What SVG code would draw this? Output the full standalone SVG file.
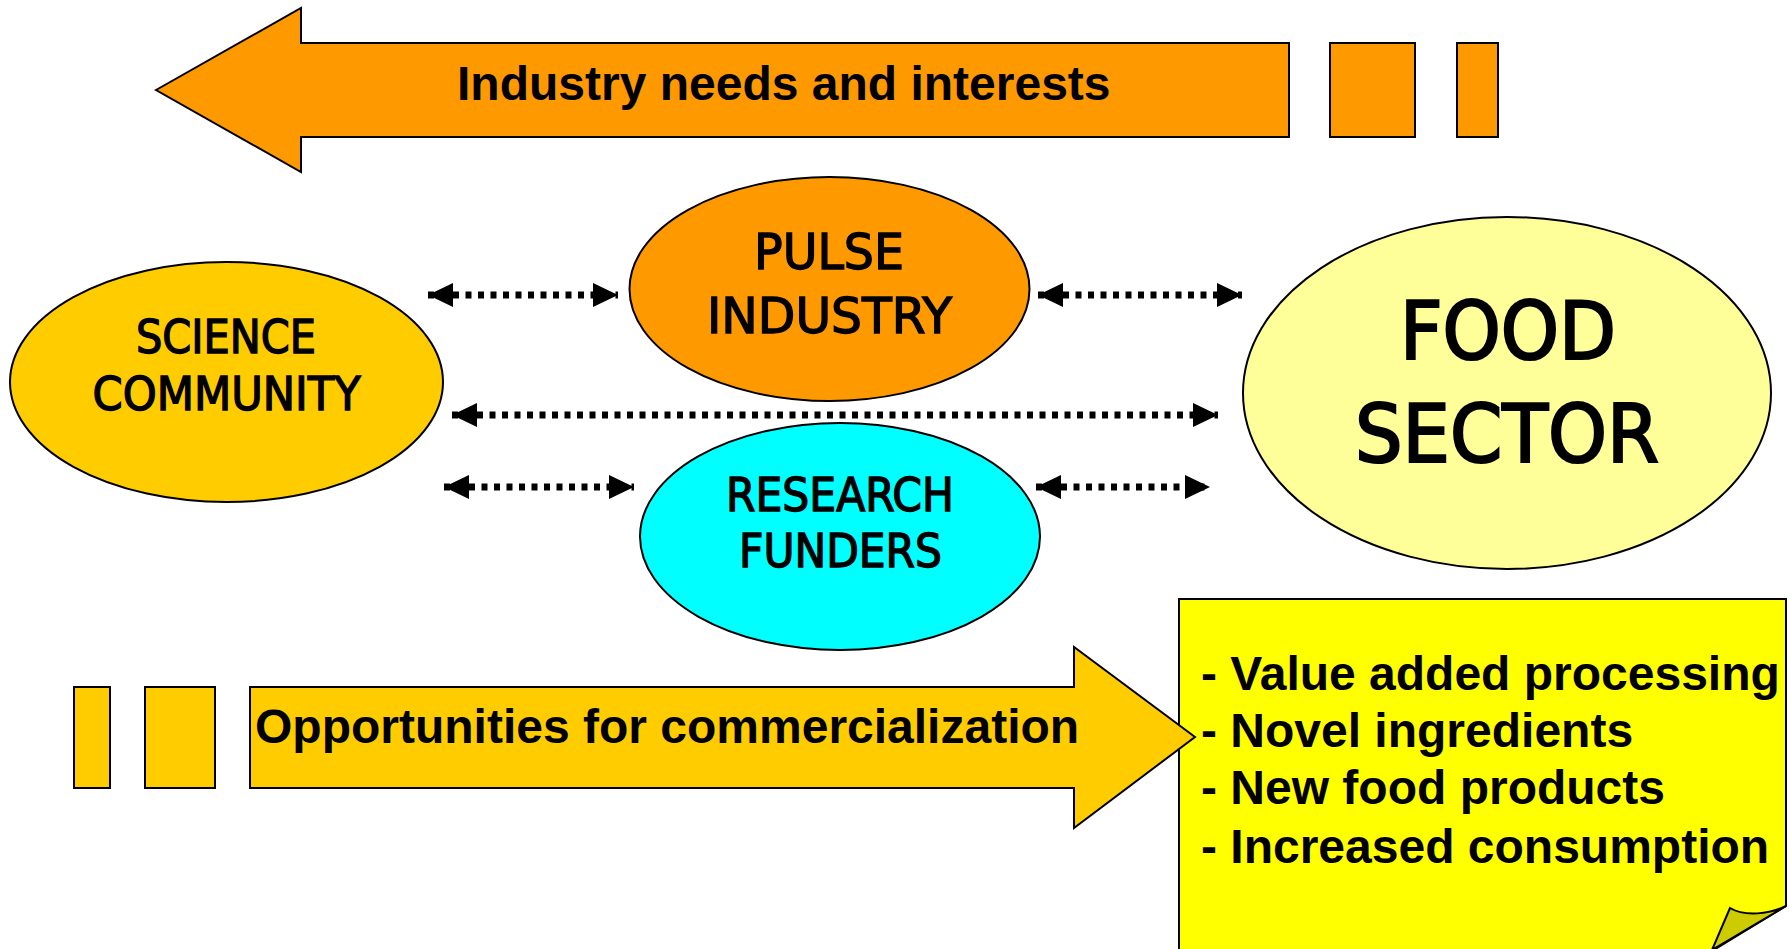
<svg xmlns="http://www.w3.org/2000/svg" width="1789" height="949" viewBox="0 0 1789 949">
<style>
.shape{stroke:#000;stroke-width:2;stroke-linejoin:miter}
.lbl{font-family:"Liberation Sans",Arial,sans-serif;font-weight:bold;font-size:48px;fill:#000}
.cond{font-family:"DejaVu Sans Condensed","DejaVu Sans",sans-serif;font-stretch:condensed;fill:#000;stroke:#000;stroke-width:1.3;text-anchor:middle}
.big{stroke-width:2.2}
.dot{stroke:#000;stroke-width:7;stroke-dasharray:6 6.5;fill:none;marker-start:url(#head);marker-end:url(#head)}
</style>
<defs>
<marker id="head" viewBox="0 0 25 24" refX="25" refY="12" markerWidth="25" markerHeight="24" markerUnits="userSpaceOnUse" orient="auto-start-reverse">
<path d="M0,0 L25,12 L0,24 Z" fill="#000"/>
</marker>
</defs>
<rect width="1789" height="949" fill="#fff"/>

<g id="industry-needs">
<path class="shape" fill="#FF9900" d="M156,90 L301,8 L301,43 L1289,43 L1289,137 L301,137 L301,172 Z"/>
<rect class="shape" fill="#FF9900" x="1330" y="43" width="85" height="94"/>
<rect class="shape" fill="#FF9900" x="1457" y="43" width="41" height="94"/>
<text class="lbl" x="457" y="100">Industry needs and interests</text>
</g>

<g id="science-community">
<ellipse class="shape" fill="#FFCC00" cx="226.5" cy="382" rx="216.5" ry="120"/>
<text class="cond" font-size="46" x="226" y="353" textLength="180" lengthAdjust="spacingAndGlyphs">SCIENCE</text>
<text class="cond" font-size="46" x="226.5" y="410" textLength="268" lengthAdjust="spacingAndGlyphs">COMMUNITY</text>
</g>

<g id="pulse-industry">
<ellipse class="shape" fill="#FF9900" cx="829.5" cy="289" rx="200" ry="112"/>
<text class="cond" font-size="50" x="829" y="269" textLength="150" lengthAdjust="spacingAndGlyphs">PULSE</text>
<text class="cond" font-size="50" x="829.5" y="333" textLength="245" lengthAdjust="spacingAndGlyphs">INDUSTRY</text>
</g>

<g id="research-funders">
<ellipse class="shape" fill="#00FFFF" cx="840" cy="536.5" rx="200" ry="113.5"/>
<text class="cond" font-size="46" x="840" y="511" textLength="228" lengthAdjust="spacingAndGlyphs">RESEARCH</text>
<text class="cond" font-size="46" x="840.5" y="567" textLength="203" lengthAdjust="spacingAndGlyphs">FUNDERS</text>
</g>

<g id="food-sector">
<ellipse class="shape" fill="#FFFF99" cx="1507" cy="393" rx="264" ry="176"/>
<text class="cond big" font-size="81" x="1508" y="359" textLength="216" lengthAdjust="spacingAndGlyphs">FOOD</text>
<text class="cond big" font-size="81" x="1507" y="462" textLength="304" lengthAdjust="spacingAndGlyphs">SECTOR</text>
</g>

<g id="outcomes-note">
<path class="shape" fill="#FFFF00" d="M1179,599 H1786 V906 L1712,951 H1179 Z"/>
<path class="shape" fill="#CCCC00" d="M1786,906 C1770,914 1745,917 1730,908 L1712,950 Z"/>
<text class="lbl" x="1201" y="690">- Value added processing</text>
<text class="lbl" x="1201" y="747">- Novel ingredients</text>
<text class="lbl" x="1201" y="804">- New food products</text>
<text class="lbl" x="1201" y="863">- Increased consumption</text>
</g>

<g id="opportunities">
<rect class="shape" fill="#FFCC00" x="74" y="687" width="36" height="101"/>
<rect class="shape" fill="#FFCC00" x="145" y="687" width="70" height="101"/>
<path class="shape" fill="#FFCC00" d="M250,687 H1074 V647 L1195,737 L1074,828 V788 H250 Z"/>
<text class="lbl" x="255" y="743">Opportunities for commercialization</text>
</g>

<g id="connectors">
<line class="dot" x1="428" y1="295" x2="618" y2="295"/>
<line class="dot" x1="1038" y1="295" x2="1242" y2="295"/>
<line class="dot" x1="452" y1="415" x2="1218" y2="415"/>
<line class="dot" x1="444" y1="487" x2="634" y2="487"/>
<line class="dot" x1="1036" y1="487" x2="1210" y2="487"/>
</g>
</svg>
